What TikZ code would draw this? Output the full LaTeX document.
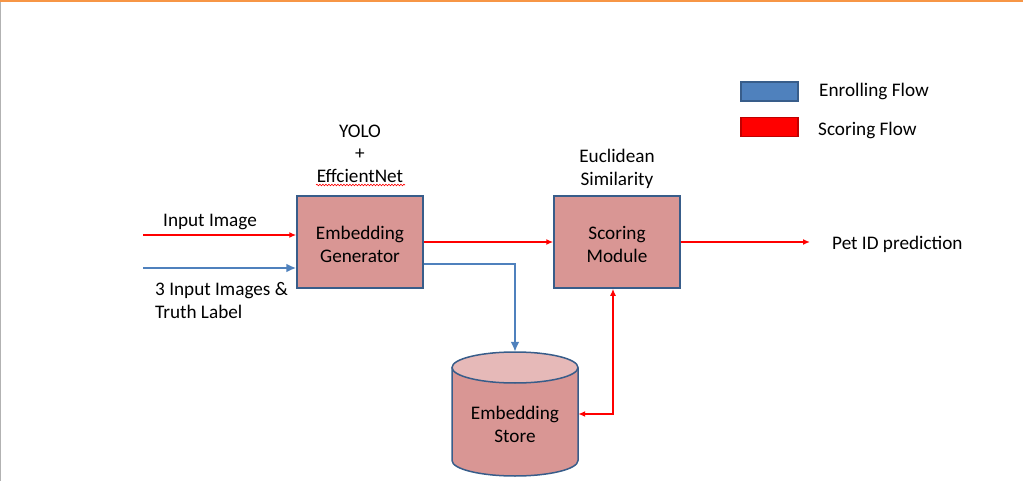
\documentclass[tikz,border=0pt]{standalone}
\usepackage{fontspec}
\setmainfont{Carlito}
\usetikzlibrary{arrows.meta,decorations.pathmorphing}
\definecolor{boxfill}{HTML}{D99694}
\definecolor{boxline}{HTML}{385D8A}
\definecolor{topfill}{HTML}{E6B9B8}
\definecolor{enroll}{HTML}{4F81BD}
\definecolor{scorered}{HTML}{FF0000}
\definecolor{darkred}{HTML}{C00000}
\definecolor{orangeline}{HTML}{F79646}
\tikzset{
  block/.style={draw=boxline, fill=boxfill, line width=1.5pt, minimum width=126pt, minimum height=92pt, inner sep=0pt},
  lbl/.style={align=center, inner sep=0pt, yshift=-2pt},
  redarr/.style={draw=scorered, line width=1.6pt, -{Latex[length=7pt,width=6pt]}},
  redarrb/.style={draw=scorered, line width=1.6pt, {Latex[length=7pt,width=6pt]}-{Latex[length=7pt,width=6pt]}},
  bluearr/.style={draw=enroll, line width=2.8pt, -{Latex[length=10pt,width=9pt]}},
  legbox/.style={minimum width=57pt, minimum height=19pt, inner sep=0pt, line width=1.5pt}
}
\begin{document}
\begin{tikzpicture}[x=1pt,y=-1pt, font=\fontsize{19.2}{23}\selectfont]
\useasboundingbox (0,0) rectangle (1023,481);
\draw[orangeline, line width=2.2pt] (0,1) -- (1023,1);
\draw[gray!60, line width=0.8pt] (0.4,2) -- (0.4,481);

% boxes
\node[block, label={[lbl]center:Embedding\\Generator}] (gen) at (360,242) {};
\node[block, label={[lbl]center:Scoring\\Module}] (score) at (617,242) {};

% cylinder
\node[minimum width=126pt, minimum height=124pt, inner sep=0pt] (store) at (515,414) {};
\fill[boxfill] (452,367.5) arc[start angle=180, end angle=0, x radius=63pt, y radius=15.5pt] -- (578,460.5) arc[start angle=360, end angle=180, x radius=63pt, y radius=15.5pt] -- cycle;
\draw[boxline, line width=1.5pt] (452,367.5) -- (452,460.5) arc[start angle=180, end angle=360, x radius=63pt, y radius=15.5pt] -- (578,367.5);
\filldraw[fill=topfill, draw=boxline, line width=1.5pt] (515,367.5) ellipse[x radius=63pt, y radius=15.5pt];
\node[lbl] (storelbl) at (515,422.5) {Embedding\\Store};

% labels
\node[lbl, font=\fontsize{19.2}{22.5}\selectfont] (yolo) at (360,151.5) {YOLO\\+\\EffcientNet};
\draw[scorered, line width=0.6pt, decorate, decoration={snake, amplitude=0.8pt, segment length=3pt}] (316,185) -- (405,185);
\node[lbl] (eucl) at (617,167) {Euclidean\\Similarity};
\node[lbl] (inimg) at (210,220) {Input Image};
\node[lbl, anchor=west, align=left] (inimgs) at (155,298.5) {3 Input Images \&\\Truth Label};
\node[lbl, anchor=west] (petid) at (832,242) {Pet ID prediction};

% connectors
\coordinate (inA) at (143,235);
\coordinate (inB) at (143,268);
\coordinate (out) at (810,242);
\draw[redarr] (inA) -- (inA -| gen.west);
\draw[bluearr] (inB) -- (inB -| gen.west);
\draw[redarr] (gen.east) -- (score.west);
\draw[bluearr] ([yshift=-22pt]gen.east) -| (store.north);
\draw[redarrb] ([xshift=-4pt]score.south) |- (store.east);
\draw[redarr] (score.east) -- (out);

% legend
\node[legbox, fill=enroll, draw=boxline] (legE) at (769.5,91.5) {};
\node[legbox, fill=scorered, draw=darkred] (legS) at (769.5,127) {};
\node[lbl, anchor=west] (legEt) at (819,89) {Enrolling Flow};
\node[lbl, anchor=west] (legSt) at (818,128) {Scoring Flow};
\end{tikzpicture}
\end{document}
